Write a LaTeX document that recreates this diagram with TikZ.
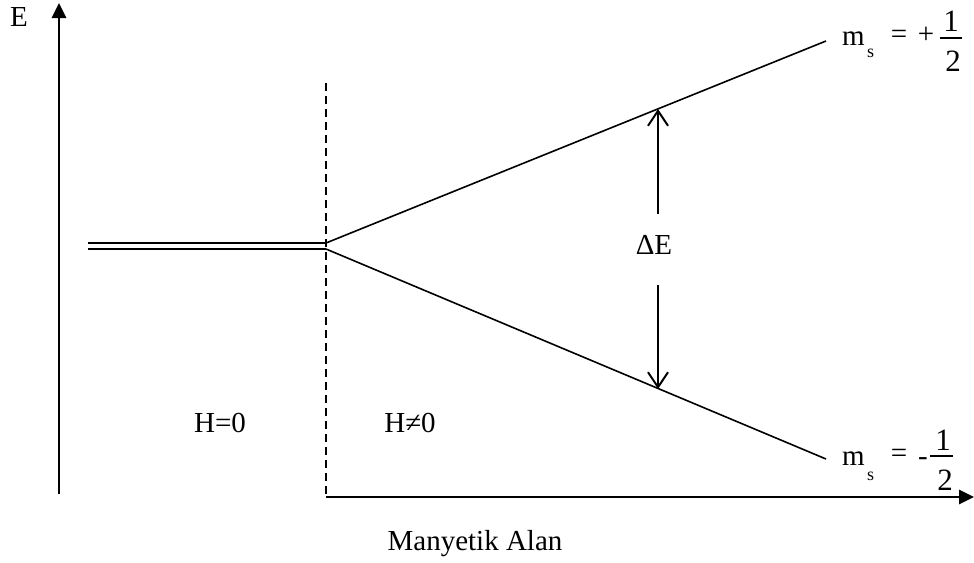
\documentclass[tikz,border=0pt]{standalone}
\usepackage{fontspec}
\setmainfont{Liberation Serif}
\usetikzlibrary{arrows.meta}
\begin{document}
\begin{tikzpicture}[x=1pt,y=-1pt,
  axis/.style={line width=2.6pt,-{Triangle[length=15pt,width=14pt]}},
  level/.style={line width=1.6pt},
  dbl/.style={line width=2pt},
  split/.style={line width=2pt,dash pattern=on 8pt off 5pt},
  gap/.style={line width=2pt,-{Straight Barb[length=15pt,width=20pt,line width=2pt]}},
  fracbar/.style={line width=1.5pt},
  lbl/.style={font=\fontsize{29}{34}\selectfont,inner sep=0pt,anchor=base},
  digit/.style={font=\fontsize{31}{36}\selectfont,inner sep=0pt,anchor=base},
  sub/.style={font=\fontsize{18}{21}\selectfont,inner sep=0pt,anchor=base west}]
\useasboundingbox (0,0) rectangle (974,562);
% axes
\coordinate (eb) at (59,494);
\coordinate (et) at (59,3);
\draw[axis] (eb) -- (et);
\node[lbl] (E) at (19,27) {E};
\coordinate (hb) at (326,497);
\coordinate (he) at (974,497);
\draw[axis] (hb) -- (he);
\node[lbl] (alan) at (475,550) {Manyetik Alan};
% dashed separator
\coordinate (dt) at (326,83);
\coordinate (db) at (326,497);
\draw[split] (dt) -- (db);
% degenerate level (double line)
\coordinate (a1) at (88,243);
\coordinate (b1) at (326,243);
\coordinate (a2) at (88,249);
\coordinate (b2) at (326,249);
\draw[dbl] (a1) -- (b1);
\draw[dbl] (a2) -- (b2);
% split levels
\coordinate (up) at (826,41);
\coordinate (lo) at (826,459);
\draw[level] (b1) -- (up);
\draw[level] (b2) -- (lo);
% label m_s = +1/2
\node[lbl,anchor=base west] (pm) at (842,45) {m};
\node[sub] (ps) at (867,57) {s};
\node[lbl] (peq) at (899,43) {=};
\node[lbl] (pplus) at (926,43) {+};
\coordinate (pb1) at (940,38);
\coordinate (pb2) at (962,38);
\draw[fracbar] (pb1) -- (pb2);
\node[digit] (pn) at (951,31) {1};
\node[digit] (pd) at (953,71) {2};
% label m_s = -1/2
\node[lbl,anchor=base west] (mm) at (842,465) {m};
\node[sub] (ms) at (867,480) {s};
\node[lbl] (meq) at (899,462) {=};
\node[lbl] (mminus) at (923,465) {-};
\coordinate (mb1) at (930,456);
\coordinate (mb2) at (953,456);
\draw[fracbar] (mb1) -- (mb2);
\node[digit] (mn) at (943,450) {1};
\node[digit] (md) at (945,490) {2};
% Delta E
\node[lbl] (dE) at (654,254) {ΔE};
\coordinate (g1) at (658,214);
\coordinate (g1t) at (658,109);
\coordinate (g2) at (658,285);
\coordinate (g2t) at (658,389);
\draw[gap] (g1) -- (g1t);
\draw[gap] (g2) -- (g2t);
% regions
\node[lbl] (h0) at (220,432) {H=0};
\node[lbl] (h1) at (410,432) {H≠0};
\end{tikzpicture}
\end{document}
